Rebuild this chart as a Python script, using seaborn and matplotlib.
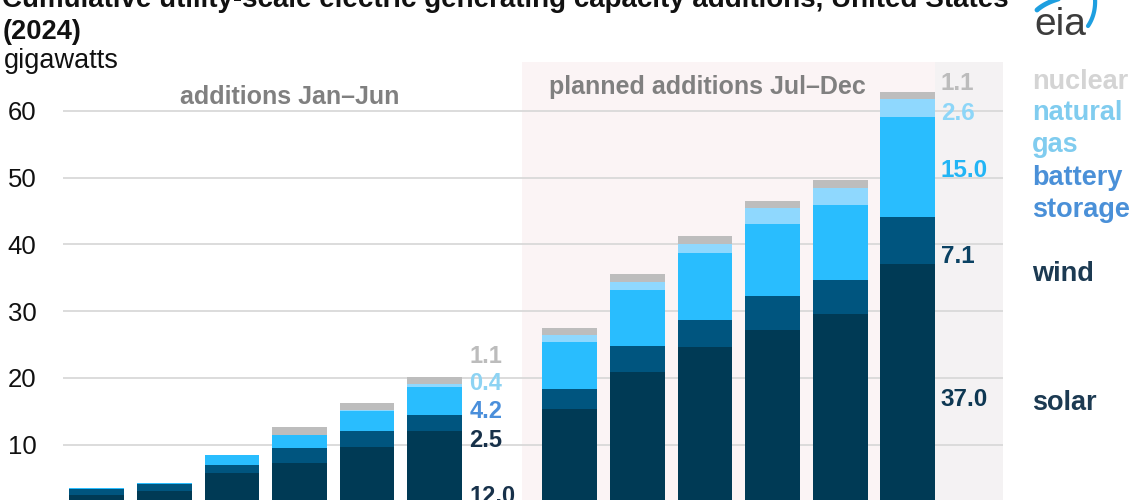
import numpy as np
import pandas as pd
import matplotlib
matplotlib.use('Agg')
import matplotlib.pyplot as plt
import seaborn as sns
from matplotlib.lines import Line2D


# cumulative additions by month, gigawatts
months = ['Jan', 'Feb', 'Mar', 'Apr', 'May', 'Jun',
          'Jul', 'Aug', 'Sep', 'Oct', 'Nov', 'Dec']
solar = [2.4, 3.0, 5.8, 7.2, 9.6, 12.0, 15.4, 20.9, 24.6, 27.1, 29.6, 37.0]
wind = [0.9, 1.1, 1.2, 2.3, 2.4, 2.5, 3.0, 3.9, 4.1, 5.1, 5.1, 7.1]
battery = [0.2, 0.2, 1.4, 2.0, 3.1, 4.2, 6.9, 8.4, 10.0, 10.8, 11.2, 15.0]
gas = [0.0, 0.0, 0.0, 0.0, 0.1, 0.4, 1.1, 1.2, 1.4, 2.4, 2.6, 2.6]
nuclear = [0.0, 0.0, 0.0, 1.1, 1.1, 1.1, 1.1, 1.1, 1.1, 1.1, 1.1, 1.1]

sources = ['solar', 'wind', 'battery', 'gas', 'nuclear']
source_names = ['solar', 'wind', 'battery\nstorage', 'natural\ngas', 'nuclear']
bar_colors = ['#003a55', '#00557f', '#29bdfe', '#8fd8fe', '#bdbdbd']
label_colors = ['#1c3a52', '#1c3a52', '#4a90d8', '#80ccef', '#d4d4d4']

# end-of-period value labels
jun_labels = ['12.0', '2.5', '4.2', '0.4', '1.1']
jun_label_colors = ['#17314a', '#17314a', '#4a8fdb', '#8dd3f3', '#bcbcbc']
dec_labels = ['37.0', '7.1', '15.0', '2.6', '1.1']
dec_label_colors = ['#0e3853', '#0b4263', '#22b5f5', '#8dd6f8', '#bcbcbc']

df = pd.DataFrame({'month': months, 'solar': solar, 'wind': wind,
                   'battery': battery, 'gas': gas, 'nuclear': nuclear})
cum = df[sources].cumsum(axis=1)
for s in sources:
    df['cum_' + s] = cum[s]

order = months[:6] + [' '] + months[6:]

# layout (pixels of the 1140x500 canvas)
W, H = 1140, 500
px_per_gw = 6.68
y0_px = 511.5
ax_left, ax_right, ax_top = 63, 1003, 62

sns.set_style('white')
plt.rcParams['font.family'] = ['Liberation Sans', 'DejaVu Sans']

fig = plt.figure(figsize=(W / 100, H / 100), dpi=100)
ax = fig.add_axes([ax_left / W, (H - y0_px) / H,
                   (ax_right - ax_left) / W, (y0_px - ax_top) / H])

# shaded planned period
ax.axvspan(6.29, 12.41, color='#fbf4f5', lw=0, zorder=0)
ax.axvspan(12.41, 13.41, color='#f4f2f3', lw=0, zorder=0)

for s, c in reversed(list(zip(sources, bar_colors))):
    sns.barplot(data=df, x='month', y='cum_' + s, order=order, color=c,
                width=0.81, saturation=1, errorbar=None, linewidth=0,
                ax=ax, zorder=2)

ax.set_xlim(-0.5, 13.41)
ax.set_ylim(0, (y0_px - ax_top) / px_per_gw)
ax.set_yticks([10, 20, 30, 40, 50, 60])
ax.set_xlabel('')
ax.set_ylabel('')
ax.set_axisbelow(True)
ax.grid(axis='y', color='#d9d9d9', lw=1.3)
ax.grid(axis='x', visible=False)
for sp in ax.spines.values():
    sp.set_visible(False)
ax.tick_params(axis='y', length=0, pad=19, labelsize=18.5, labelcolor='#111111')
ax.tick_params(axis='x', length=0, labelbottom=False)

# value labels
jun_y = [2.2, 10.7, 14.9, 19.2, 23.2]
dec_y = [16.7, 38.1, 51.1, 59.6, 64.1]
for t, c, y in zip(jun_labels, jun_label_colors, jun_y):
    ax.text(5.51, y, t, color=c, fontsize=17, fontweight='bold',
            ha='left', va='center', clip_on=False)
for t, c, y in zip(dec_labels, dec_label_colors, dec_y):
    ax.text(12.49, y, t, color=c, fontsize=17.5, fontweight='bold',
            ha='left', va='center', clip_on=False)

# series names on the right
name_y = [16.3, 35.6, 47.5, 57.3, 64.3]
for t, c, y in zip(source_names, label_colors, name_y):
    ax.text(13.84, y, t, color=c, fontsize=19.5, fontweight='bold',
            ha='left', va='center', linespacing=1.3, clip_on=False)

# period labels
ax.text(2.85, 62.05, 'additions Jan\u2013Jun', color='#808080', fontsize=18,
        fontweight='bold', ha='center', va='center')
ax.text(9.03, 63.55, 'planned additions Jul\u2013Dec', color='#808080',
        fontsize=18, fontweight='bold', ha='center', va='center')

# titles
fig.text(2 / W, 1 - 7 / H,
         'Cumulative utility-scale electric generating capacity additions, United States',
         fontsize=20, fontweight='bold', color='#111111', ha='left', va='baseline')
fig.text(3 / W, 1 - 39 / H, '(2024)', fontsize=19.6, fontweight='bold',
         color='#111111', ha='left', va='baseline')
fig.text(4 / W, 1 - 68 / H, 'gigawatts', fontsize=19.5, color='#111111',
         ha='left', va='baseline')

# eia logo
fig.text(1034 / W, 1 - 35 / H, 'eia', fontsize=28, color='#3c3c3c',
         ha='left', va='baseline')


def swoosh(p0, p1, p2, lw):
    t = np.linspace(0, 1, 30)
    xs = (1 - t) ** 2 * p0[0] + 2 * (1 - t) * t * p1[0] + t ** 2 * p2[0]
    ys = (1 - t) ** 2 * p0[1] + 2 * (1 - t) * t * p1[1] + t ** 2 * p2[1]
    fig.add_artist(Line2D(xs / W, 1 - ys / H, color='#1e9fe0', lw=lw,
                          solid_capstyle='round', transform=fig.transFigure))


swoosh((1037, 10), (1046, 2), (1062, -2), 3.5)
swoosh((1088, 26), (1096, 14), (1095, -2), 3)

fig.savefig('out.png', dpi=100)
